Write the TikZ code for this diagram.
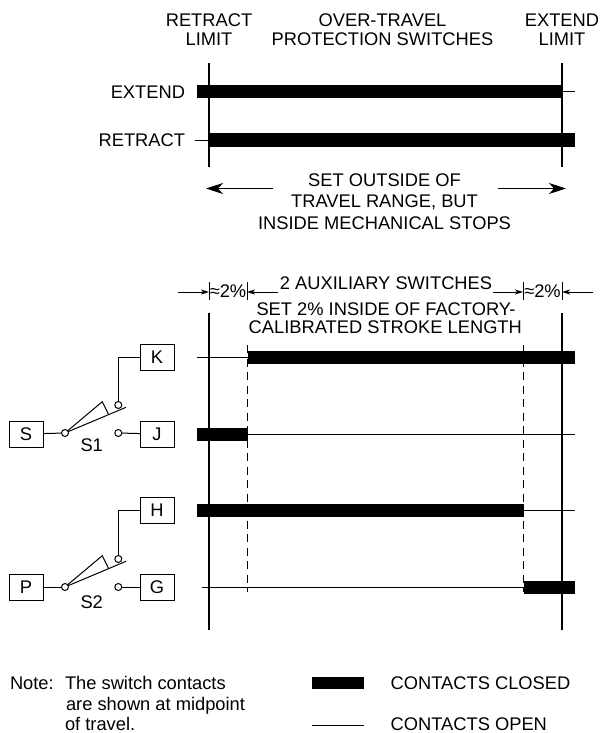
\documentclass[tikz,border=0pt]{standalone}
\usepackage{fontspec}
\setmainfont{Liberation Sans}
\usetikzlibrary{arrows.meta}
\begin{document}
\begin{tikzpicture}[x=1pt,y=-1pt,
  every node/.style={font=\fontsize{18.3}{20}\selectfont, inner sep=0pt, outer sep=0pt},
  bar/.style={line width=13pt, line cap=butt},
  thinline/.style={line width=1pt},
  vline/.style={line width=1.2pt},
  dashline/.style={line width=1.1pt, dash pattern=on 8pt off 5.5pt},
  termbox/.style={draw, line width=1pt, minimum width=34pt, minimum height=26pt, inner sep=0pt},
  contact/.style={circle, draw, fill=white, line width=1pt, minimum size=7pt, inner sep=0pt},
  bigarrow/.style={line width=1pt, -{Stealth[length=17pt,width=11pt,inset=5pt]}},
  smallarrow/.style={line width=1pt, -{Stealth[length=8pt,width=5pt,inset=2pt]}},
]
\useasboundingbox (0,0) rectangle (600,733);

% ---------- top headers ----------
\node[anchor=base] (h1a) at (209,26.7) {RETRACT};
\node[anchor=base] (h1b) at (209,45.7) {LIMIT};
\node[anchor=base] (h2a) at (382.5,26.7) {OVER-TRAVEL};
\node[anchor=base] (h2b) at (382.5,45.7) {PROTECTION SWITCHES};
\node[anchor=base] (h3a) at (562,26.7) {EXTEND};
\node[anchor=base] (h3b) at (562,45.7) {LIMIT};

% ---------- top section ----------
\coordinate (tlTop) at (209,63);
\coordinate (tlBot) at (209,167);
\coordinate (trTop) at (562,63);
\coordinate (trBot) at (562,167);
\draw[vline] (tlTop) -- (tlBot);
\draw[vline] (trTop) -- (trBot);

\node[anchor=base east] (extlbl) at (185,99) {EXTEND};
\node[anchor=base east] (retlbl) at (185,146.5) {RETRACT};

\coordinate (e1) at (197,92);
\coordinate (e2) at (562,92);
\coordinate (e3) at (575,92);
\draw[bar] (e1) -- (e2);
\draw[thinline] (e2) -- (e3);

\coordinate (r0) at (195,140);
\coordinate (r1) at (209,140);
\coordinate (r2) at (575,140);
\draw[thinline] (r0) -- (r1);
\draw[bar] (r1) -- (r2);

\node[anchor=base] (so1) at (384.5,186.7) {SET OUTSIDE OF};
\node[anchor=base] (so2) at (384.5,207.3) {TRAVEL RANGE, BUT};
\node[anchor=base] (so3) at (384.5,229) {INSIDE MECHANICAL STOPS};
\coordinate (la1) at (273,188.5);
\coordinate (la2) at (206,188.5);
\coordinate (ra1) at (498,188.5);
\coordinate (ra2) at (566,188.5);
\draw[bigarrow] (la1) -- (la2);
\draw[bigarrow] (ra1) -- (ra2);

% ---------- dimension row ----------
\coordinate (d1) at (178,292);
\coordinate (d2) at (209,292);
\coordinate (d3) at (278,292);
\coordinate (d4) at (247,292);
\coordinate (d5) at (493,292);
\coordinate (d6) at (523,292);
\coordinate (d7) at (593,292);
\coordinate (d8) at (562,292);
\draw[smallarrow] (d1) -- (d2);
\draw[smallarrow] (d3) -- (d4);
\draw[smallarrow] (d5) -- (d6);
\draw[smallarrow] (d7) -- (d8);
\foreach \x in {209,247,523,562} \draw[thinline] (\x,282) -- (\x,300);
\node[anchor=base] (pc1) at (228,297) {≈2\%};
\node[anchor=base] (pc2) at (542.5,297) {≈2\%};
\node[anchor=base] (aux1) at (386,289) {2 AUXILIARY SWITCHES};
\node[anchor=base] (aux2) at (386,315) {SET 2\% INSIDE OF FACTORY-};
\node[anchor=base] (aux3) at (385.3,333.3) {CALIBRATED STROKE LENGTH};

% ---------- bottom timing ----------
\coordinate (blTop) at (209,313);
\coordinate (blBot) at (209,630);
\coordinate (brTop) at (562,313);
\coordinate (brBot) at (562,630);
\draw[vline] (blTop) -- (blBot);
\draw[vline] (brTop) -- (brBot);
\coordinate (dlTop) at (247.5,345);
\coordinate (dlBot) at (247.5,592);
\coordinate (drTop) at (523.5,345);
\coordinate (drBot) at (523.5,592);
\draw[dashline] (dlTop) -- (dlBot);
\draw[dashline] (drTop) -- (drBot);

% K row
\draw[thinline] (197,357) -- (247.5,357);
\draw[bar] (247.5,357) -- (575,357);
% J row
\draw[bar] (197,434) -- (247.5,434);
\draw[thinline] (247.5,434) -- (575,434);
% H row
\draw[bar] (197,510.5) -- (524,510.5);
\draw[thinline] (524,510.5) -- (575,510.5);
% G row
\draw[thinline] (202,587) -- (523.5,587);
\draw[bar] (523.5,587) -- (575,587);

% ---------- switches ----------
\node[termbox] (S) at (26,434) {S};
\node[termbox] (J) at (157,434) {J};
\node[termbox] (K) at (157,357) {K};
\node[termbox] (H) at (157,510.5) {H};
\node[termbox] (P) at (26,587) {P};
\node[termbox] (G) at (157,587) {G};

% S1
\node[contact] (p1) at (65,433) {};
\node[contact] (u1) at (118.3,405) {};
\node[contact] (l1) at (118.3,433) {};
\coordinate (a1) at (102.3,401.7);
\coordinate (b1) at (108.3,414);
\coordinate (t1) at (126,407.3);
\draw[thinline] (S) -- (p1);
\draw[thinline] (p1) -- (t1);
\draw[thinline, line join=miter] (p1) -- (a1) -- (b1);
\draw[thinline] (u1.north) |- (K.west);
\draw[thinline] (l1) -- (J);
\node[anchor=base] (s1lbl) at (91.7,451.7) {S1};

% S2
\node[contact] (p2) at (65,587) {};
\node[contact] (u2) at (118.3,559) {};
\node[contact] (l2) at (118.3,587) {};
\coordinate (a2) at (102.3,555.7);
\coordinate (b2) at (108.3,568);
\coordinate (t2) at (126,561.3);
\draw[thinline] (P) -- (p2);
\draw[thinline] (p2) -- (t2);
\draw[thinline, line join=miter] (p2) -- (a2) -- (b2);
\draw[thinline] (u2.north) |- (H.west);
\draw[thinline] (l2) -- (G);
\node[anchor=base] (s2lbl) at (91.7,608.3) {S2};

% ---------- note & legend ----------
\node[anchor=base west] (note) at (10,689) {Note:};
\node[anchor=base west] (n1) at (65,689) {The switch contacts};
\node[anchor=base west] (n2) at (66,710) {are shown at midpoint};
\node[anchor=base west] (n3) at (65,730.5) {of travel.};

\fill (312,677) rectangle (364,689.3);
\draw[thinline] (312,725.7) -- (364,725.7);
\node[anchor=base west] (lc) at (390.7,689.3) {CONTACTS CLOSED};
\node[anchor=base west] (lo) at (390.7,730) {CONTACTS OPEN};
\end{tikzpicture}
\end{document}
